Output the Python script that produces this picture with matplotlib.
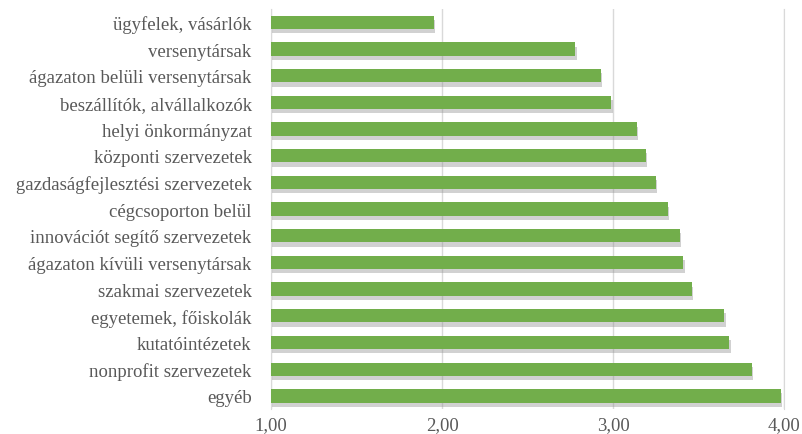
import matplotlib.pyplot as plt
import matplotlib.patheffects as pe
from matplotlib.ticker import FixedLocator

categories = [
    "ügyfelek, vásárlók",
    "versenytársak",
    "ágazaton belüli versenytársak",
    "beszállítók, alvállalkozók",
    "helyi önkormányzat",
    "központi szervezetek",
    "gazdaságfejlesztési szervezetek",
    "cégcsoporton belül",
    "innovációt segítő szervezetek",
    "ágazaton kívüli versenytársak",
    "szakmai szervezetek",
    "egyetemek, főiskolák",
    "kutatóintézetek",
    "nonprofit szervezetek",
    "egyéb",
]
values = [1.95, 2.78, 2.93, 2.99, 3.14, 3.19, 3.25, 3.32, 3.39, 3.41,
          3.46, 3.65, 3.68, 3.81, 3.98]
x_ticks = [1, 2, 3, 4]
x_tick_labels = ["1,00", "2,00", "3,00", "4,00"]

plt.rcParams['font.family'] = ['Liberation Serif', 'DejaVu Serif']

fig = plt.figure(figsize=(8.02, 4.35), dpi=100)
ax = fig.add_axes([0.338, 0.057, 0.6396, 0.92])

ypos = list(range(len(categories)))
lefts = [1] * len(values)
widths = [v - 1 for v in values]
bars = ax.barh(ypos, widths, left=lefts, height=0.5, color='#72ae4b',
               zorder=3)
for b in bars:
    b.set_path_effects([
        pe.SimplePatchShadow(offset=(1, -3), shadow_rgbFace='#8c8c8c',
                             alpha=0.4),
        pe.Normal(),
    ])

ax.set_xlim(1, 4)
ax.set_ylim(len(categories) - 0.5, -0.5)
ax.set_yticks(ypos)
ax.set_yticklabels(categories, fontsize=13.5, color='#595959')
ax.xaxis.set_major_locator(FixedLocator(x_ticks))
ax.set_xticklabels(x_tick_labels, fontsize=13.5, color='#595959')
ax.tick_params(length=0)
ax.tick_params(axis='y', pad=14)
ax.tick_params(axis='x', pad=5)
ax.grid(axis='x', color='#d9d9d9', linewidth=1, zorder=0)
for side in ['top', 'bottom']:
    ax.spines[side].set_visible(False)
ax.spines['left'].set_color('#d9d9d9')
ax.spines['right'].set_color('#d9d9d9')

fig.savefig('out.png', dpi=100)
